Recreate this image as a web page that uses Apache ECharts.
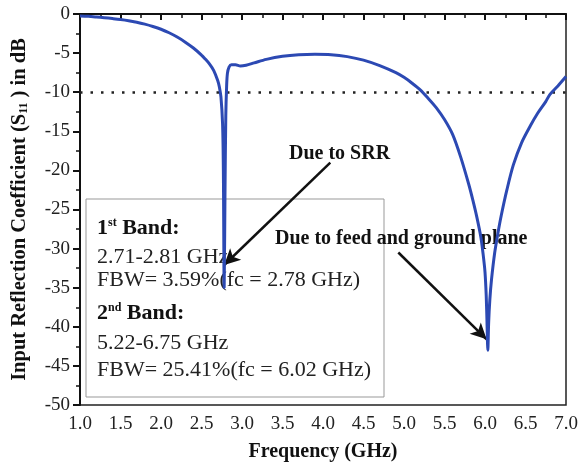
<!DOCTYPE html>
<html>
<head>
<meta charset="utf-8">
<script src="https://cdn.jsdelivr.net/npm/echarts@6/dist/echarts.min.js"></script>
<style>html,body{margin:0;padding:0;background:#fff}#c{width:586px;height:467px}</style>
</head>
<body>
<div id="c"></div>
<script>
// Frequency (GHz)
const freq = [1.0,1.1,1.2,1.3,1.4,1.5,1.6,1.7,1.8,1.9,2.0,2.1,2.2,2.3,2.4,2.5,2.55,2.6,2.65,2.7,2.72,2.74,2.76,2.77,2.78,2.79,2.80,2.81,2.82,2.84,2.87,2.92,2.98,3.05,3.15,3.3,3.5,3.7,3.9,4.1,4.3,4.5,4.7,4.9,5.0,5.1,5.2,5.3,5.4,5.5,5.6,5.7,5.8,5.85,5.9,5.95,5.98,6.0,6.015,6.025,6.035,6.045,6.06,6.08,6.12,6.16,6.2,6.27,6.35,6.45,6.56,6.65,6.75,6.8,6.9,7.0];
// S11 (dB)
const s11 = [-0.25,-0.3,-0.38,-0.47,-0.58,-0.7,-0.85,-1.05,-1.3,-1.6,-1.95,-2.4,-2.95,-3.6,-4.35,-5.25,-5.8,-6.4,-7.2,-8.5,-9.3,-10.6,-14,-20,-35,-23,-13,-9.3,-7.6,-6.8,-6.5,-6.5,-6.65,-6.55,-6.25,-5.8,-5.4,-5.2,-5.15,-5.2,-5.45,-5.9,-6.6,-7.5,-8.1,-8.85,-9.7,-10.8,-12.0,-13.5,-15.4,-18.3,-21.8,-23.8,-26,-28.6,-31,-33,-36,-39.5,-43,-39.5,-36.5,-34,-30.5,-28,-25.8,-22.5,-19.3,-16.5,-14.3,-12.7,-11.2,-10.3,-9.2,-8.0];
const xTicks = {min:1.0, max:7.0, step:0.5};
const yTicks = {min:-50, max:0, step:5};
const refLevel = -10;
// annotation arrows in data coordinates [freq, dB]
const arrowSRR = [[4.09,-19.0],[2.78,-32.1]];
const arrowFeed = [[4.93,-30.5],[6.02,-41.6]];

const FONT = "'Liberation Serif','Times New Roman',serif";
const chart = echarts.init(document.getElementById('c'), null, {renderer:'canvas'});
const supRich = {
  b:{fontFamily:FONT, fontWeight:'bold', fontSize:22, fill:'#111'},
  sp:{fontFamily:FONT, fontWeight:'bold', fontSize:12, fill:'#111', verticalAlign:'top', padding:[0,0,10,0]}
};
const option = {
  animation:false,
  backgroundColor:'#fff',
  grid:{left:80, right:20, top:14, bottom:60, show:true, borderColor:'#222', borderWidth:1.5, backgroundColor:'transparent'},
  xAxis:{
    type:'value', min:xTicks.min, max:xTicks.max, interval:xTicks.step,
    name:'Frequency (GHz)', nameLocation:'middle', nameGap:37,
    nameTextStyle:{fontFamily:FONT, fontWeight:'bold', fontSize:20, color:'#111'},
    axisLine:{lineStyle:{color:'#111', width:2}},
    axisTick:{length:6, lineStyle:{color:'#111', width:2}},
    minorTick:{show:true, splitNumber:2, length:4, lineStyle:{color:'#111', width:1.5}},
    splitLine:{show:false},
    axisLabel:{fontFamily:FONT, fontSize:19, color:'#222', margin:10, formatter:v=>v.toFixed(1)}
  },
  yAxis:{
    type:'value', min:yTicks.min, max:yTicks.max, interval:yTicks.step,
    name:'{n|Input Reflection Coefficient (S}{s|11}{n| ) in dB}', nameLocation:'middle', nameGap:50, nameRotate:90,
    nameTextStyle:{rich:{
      n:{fontFamily:FONT, fontWeight:'bold', fontSize:20.5, color:'#111'},
      s:{fontFamily:FONT, fontWeight:'bold', fontSize:12, color:'#111', verticalAlign:'bottom', padding:[8,0,0,0]}
    }},
    axisLine:{lineStyle:{color:'#111', width:2}},
    axisTick:{length:7, lineStyle:{color:'#111', width:2}},
    minorTick:{show:true, splitNumber:2, length:4, lineStyle:{color:'#111', width:1.5}},
    splitLine:{show:false},
    axisLabel:{fontFamily:FONT, fontSize:19, color:'#222', margin:10}
  },
  graphic:[
    {type:'rect', z:1, shape:{x:86, y:199, width:298, height:198}, style:{fill:'#fff', stroke:'#999', lineWidth:1}},
    {type:'text', z:3, left:97, top:217, style:{text:'{b|1}{sp|st}{b| Band:}', rich:supRich}},
    {type:'text', z:3, left:97, top:246, style:{text:'2.71-2.81 GHz', font:'22px '+FONT, fill:'#222'}},
    {type:'text', z:3, left:97, top:269, style:{text:'FBW= 3.59%(fc = 2.78 GHz)', font:'22px '+FONT, fill:'#222'}},
    {type:'text', z:3, left:97, top:302, style:{text:'{b|2}{sp|nd}{b| Band:}', rich:supRich}},
    {type:'text', z:3, left:97, top:332, style:{text:'5.22-6.75 GHz', font:'22px '+FONT, fill:'#222'}},
    {type:'text', z:3, left:97, top:359, style:{text:'FBW= 25.41%(fc = 6.02 GHz)', font:'22px '+FONT, fill:'#222'}},
    {type:'text', z:3, left:289, top:144, style:{text:'Due to SRR', font:'bold 20px '+FONT, fill:'#111'}},
    {type:'text', z:3, left:275, top:229, style:{text:'Due to feed and ground plane', font:'bold 20px '+FONT, fill:'#111'}}
  ],
  series:[
    {type:'line', z:5, data:freq.map((f,i)=>[f,s11[i]]), showSymbol:false, symbol:'none',
     smooth:0.3, lineStyle:{color:'#2c49b3', width:3}, clip:true,
     markLine:{silent:true, symbol:['none','none'], label:{show:false},
       lineStyle:{color:'#222', type:[2.5,8], width:2.5},
       data:[[{coord:[xTicks.min, refLevel]},{coord:[xTicks.max, refLevel]}]]}
    },
    {type:'line', z:6, data:[], markLine:{silent:true, symbol:['none','arrow'], symbolSize:[12,16], label:{show:false},
       lineStyle:{color:'#111', type:'solid', width:2.5},
       data:[
         [{coord:arrowSRR[0]},{coord:arrowSRR[1]}],
         [{coord:arrowFeed[0]},{coord:arrowFeed[1]}]
       ]}}
  ]
};
chart.setOption(option);
</script>
</body>
</html>
